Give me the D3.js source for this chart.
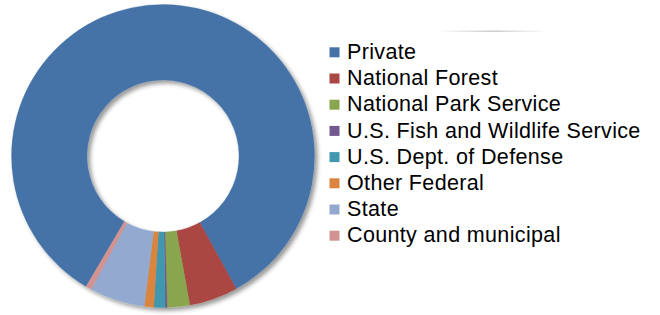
<!DOCTYPE html>
<html><head><meta charset="utf-8">
<script src="https://cdnjs.cloudflare.com/ajax/libs/d3/7.8.5/d3.min.js"></script>
<style>html,body{margin:0;padding:0;background:#fff;}svg{display:block;}</style>
</head><body>
<svg id="chart" width="660" height="315"></svg>
<script>
const categories = ["Private","National Forest","National Park Service","U.S. Fish and Wildlife Service","U.S. Dept. of Defense","Other Federal","State","County and municipal"];
const values = [83.5, 5.2, 2.4, 0.2, 1.2, 1.0, 5.9, 0.6];
const colors = ["#4572A7","#AA4643","#89A54E","#71588F","#4198AF","#DB843D","#93A9CF","#D19392"];

const svg = d3.select("#chart");
const defs = svg.append("defs");
const f = defs.append("filter").attr("id","sh").attr("x","-10%").attr("y","-10%").attr("width","120%").attr("height","120%");
f.append("feDropShadow").attr("dx",3).attr("dy",3).attr("stdDeviation",2.2).attr("flood-color","#000").attr("flood-opacity",0.4);
const lg = defs.append("linearGradient").attr("id","lgsh");
lg.append("stop").attr("offset","0%").attr("stop-color","#ccc").attr("stop-opacity",0);
lg.append("stop").attr("offset","50%").attr("stop-color","#ccc").attr("stop-opacity",1);
lg.append("stop").attr("offset","100%").attr("stop-color","#ccc").attr("stop-opacity",0);
svg.append("rect").attr("x",438).attr("y",30.5).attr("width",110).attr("height",1.5).attr("fill","url(#lgsh)");

const cx = 163, cy = 156, rOuter = 151.5, rInner = 76;
const start = 210.5 * Math.PI / 180;
const pie = d3.pie().sort(null).value(d => d.v).startAngle(start).endAngle(start + 2*Math.PI);
const arc = d3.arc().innerRadius(rInner).outerRadius(rOuter);
const data = categories.map((c,i) => ({c, v: values[i], col: colors[i]}));

const g = svg.append("g").attr("transform",`translate(${cx},${cy})`).attr("filter","url(#sh)");
g.selectAll("path").data(pie(data)).join("path")
  .attr("d", arc).attr("fill", d => d.data.col).attr("stroke", d => d.data.col).attr("stroke-width",0.3);

const leg = svg.append("g");
const ly = d3.scaleBand().domain(categories).range([39.2, 248.8]);
const items = leg.selectAll("g").data(data).join("g")
  .attr("transform", d => `translate(329.5,${ly(d.c) + ly.bandwidth()/2})`);
items.append("rect").attr("x",0).attr("y",-5).attr("width",10).attr("height",10).attr("fill", d => d.col);
items.append("text").attr("x",17.5).attr("y",6.6)
  .attr("font-family","'Liberation Sans', Arial, sans-serif").attr("font-size","21.5px")
  .attr("letter-spacing","0.35px").attr("fill","#000")
  .text(d => d.c);
</script>
</body></html>
